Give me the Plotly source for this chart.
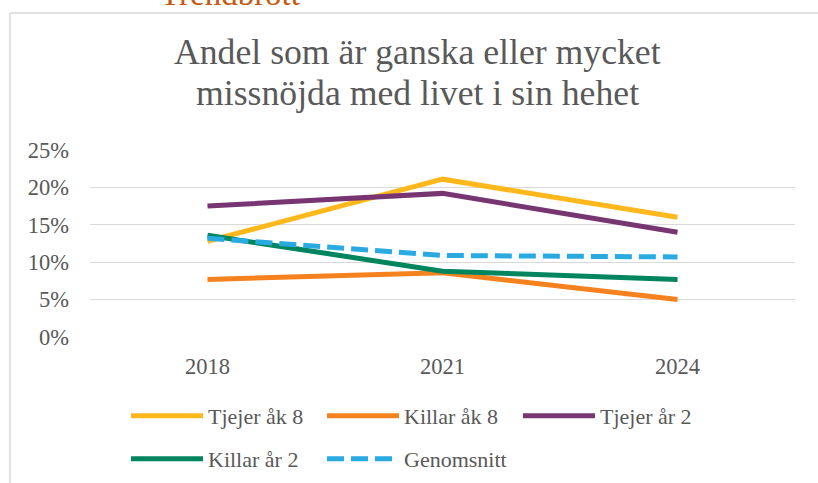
import plotly.graph_objects as go

years = ["2018", "2021", "2024"]
tjejer_ak8 = [0.128, 0.211, 0.160]
killar_ak8 = [0.077, 0.086, 0.050]
tjejer_ar2 = [0.175, 0.192, 0.140]
killar_ar2 = [0.136, 0.088, 0.077]
genomsnitt = [0.132, 0.109, 0.107]

series = [
    ("Tjejer åk 8", tjejer_ak8, "#FFB81C", "solid", "legend"),
    ("Killar åk 8", killar_ak8, "#F5821F", "solid", "legend"),
    ("Tjejer år 2", tjejer_ar2, "#773572", "solid", "legend"),
    ("Killar år 2", killar_ar2, "#00855F", "solid", "legend2"),
    ("Genomsnitt", genomsnitt, "#29ABE2", "17px,7px", "legend2"),
]

FONT = "'Liberation Serif', 'DejaVu Serif', serif"
GRAY = "#595959"

W, H = 818, 483
L, R, T, B = 90, 23, 150, 146
PW, PH = W - L - R, H - T - B


def px(x):
    return (x - L) / PW


def py(y):
    return (H - B - y) / PH


fig = go.Figure()
for name, vals, color, dash, leg in series:
    fig.add_trace(go.Scatter(x=years, y=vals, name=name, mode="lines", legend=leg,
                             line=dict(color=color, width=5, dash=dash)))

legend_common = dict(orientation="h", xanchor="left", yanchor="middle",
                     xref="container", yref="container",
                     entrywidth=109, itemwidth=72,
                     font=dict(size=22, family=FONT, color=GRAY),
                     bgcolor="rgba(0,0,0,0)")

fig.update_layout(
    width=W, height=H,
    margin=dict(l=L, r=R, t=T, b=B, autoexpand=False),
    paper_bgcolor="white", plot_bgcolor="white",
    font=dict(family=FONT, color=GRAY, size=22),
    showlegend=True,
    legend=dict(x=126 / W, y=1 - 416 / H, **legend_common),
    legend2=dict(x=126 / W, y=1 - 459 / H, **legend_common),
    xaxis=dict(type="category", range=[-0.5, 2.5], showgrid=False, showline=False,
               zeroline=False, ticks="", tickfont=dict(size=22.5, family=FONT, color=GRAY),
               ticklabelstandoff=13),
    yaxis=dict(range=[0, 0.25], tickvals=[0, 0.05, 0.10, 0.15, 0.20, 0.25],
               tickformat=".0%", showgrid=True, gridcolor="#D9D9D9", gridwidth=1.3,
               zeroline=False, showline=False, ticks="",
               tickfont=dict(size=22.5, family=FONT, color=GRAY), ticklabelstandoff=20),
    annotations=[
        dict(text="Andel som är ganska eller mycket", xref="paper", yref="paper",
             x=px(417), y=py(66), xanchor="center", yanchor="bottom",
             showarrow=False, font=dict(size=35.7, family=FONT, color=GRAY), yshift=-8),
        dict(text="missnöjda med livet i sin hehet", xref="paper", yref="paper",
             x=px(417), y=py(107), xanchor="center", yanchor="bottom",
             showarrow=False, font=dict(size=35.7, family=FONT, color=GRAY), yshift=-8),
        dict(text="Trendbrott", xref="paper", yref="paper",
             x=px(230), y=py(6), xanchor="center", yanchor="bottom",
             showarrow=False, font=dict(size=33, family=FONT, color="#C55A11"), yshift=-8),
    ],
    shapes=[
        dict(type="line", xref="paper", yref="paper", x0=px(10), x1=px(830),
             y0=py(13), y1=py(13), line=dict(color="#D9D9D9", width=1.5)),
        dict(type="line", xref="paper", yref="paper", x0=px(10), x1=px(10),
             y0=py(13), y1=py(500), line=dict(color="#D9D9D9", width=1.5)),
    ],
)

fig.write_html("out.html", config={"displayModeBar": False},
               post_script="document.body.style.margin='0';document.body.style.overflow='hidden';")
